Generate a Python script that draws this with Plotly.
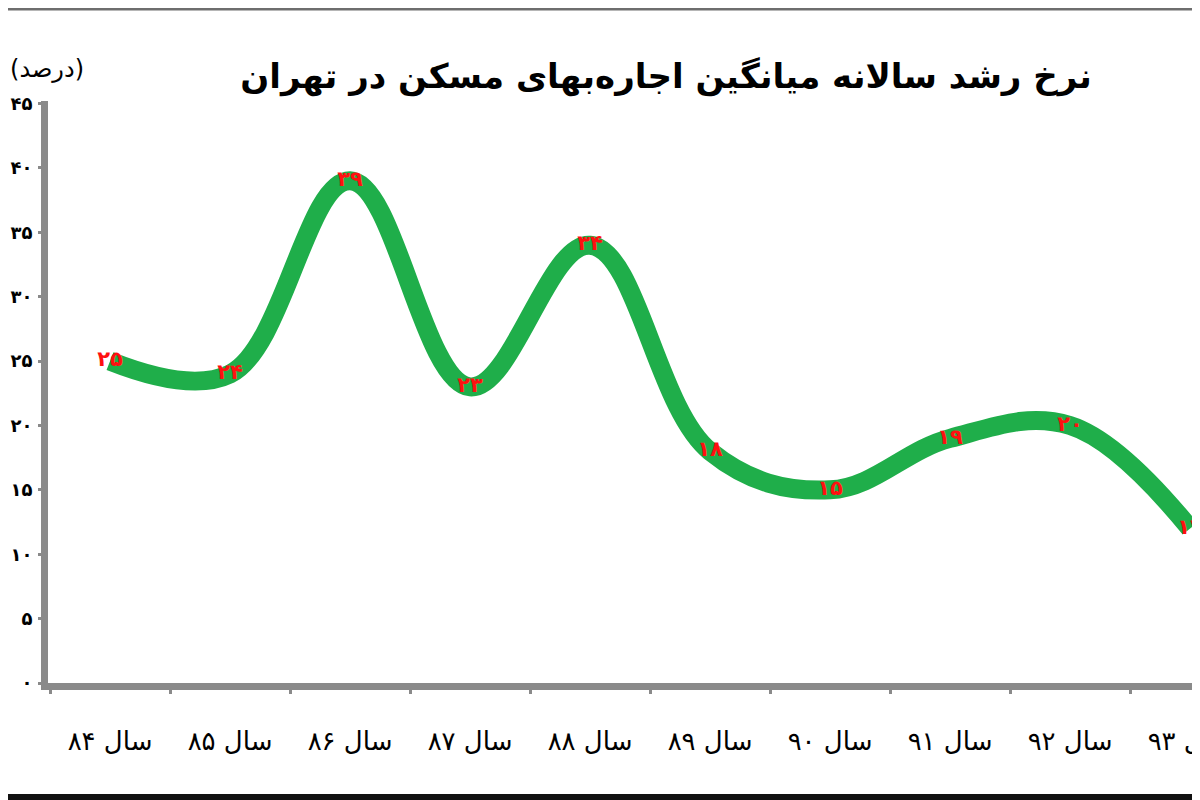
import plotly.graph_objects as go

# نرخ رشد سالانه میانگین اجاره‌بها (درصد)
years = [84, 85, 86, 87, 88, 89, 90, 91, 92, 93]
growth = [25, 24, 39, 23, 34, 18, 15, 19, 20, 12]
y_ticks = [0, 5, 10, 15, 20, 25, 30, 35, 40, 45]

TITLE = "نرخ رشد سالانه میانگین اجاره‌بهای مسکن در تهران"
UNIT = "(درصد)"

FA = str.maketrans("0123456789", "۰۱۲۳۴۵۶۷۸۹")


def fa(v):
    return str(v).translate(FA)


W, H = 1200, 800
# the page body adds an 8px offset, so layout is set 8px up/left
M = dict(l=40, r=8, t=93, b=125)
plot_h = H - M["t"] - M["b"]
plot_w = W - M["l"] - M["r"]


def py(pixel):
    # pixel (from top of figure) -> paper y
    return (H - M["b"] - pixel) / plot_h


def px(pixel):
    return (pixel - M["l"]) / plot_w


cats = ["سال " + fa(y) for y in years]

fig = go.Figure()
fig.add_trace(go.Scatter(
    x=cats, y=growth,
    mode="lines+text",
    line=dict(color="#1fae4a", width=19, shape="spline", smoothing=1.1),
    text=[fa(v) for v in growth],
    textposition="middle center",
    textfont=dict(family="DejaVu Sans", size=21, color="#ff1010", weight="bold"),
    hoverinfo="skip",
    cliponaxis=False,
))

axis_grey = "#8a8a8a"
fig.update_layout(
    width=W, height=H,
    margin=M,
    paper_bgcolor="white",
    plot_bgcolor="white",
    showlegend=False,
    title=dict(
        text=TITLE,
        x=658 / W, xanchor="center",
        y=1 - 68 / H, yanchor="middle",
        font=dict(family="DejaVu Sans", size=34, color="black", weight="bold"),
    ),
    xaxis=dict(
        type="category",
        range=[-0.517, 9.083],
        automargin=False,
        showgrid=False, zeroline=False,
        showline=True, linecolor=axis_grey, linewidth=7,
        ticks="outside", tickson="boundaries", ticklen=4, tickwidth=3,
        tickcolor=axis_grey,
        ticklabelstandoff=29,
        tickfont=dict(family="DejaVu Sans", size=26, color="black"),
    ),
    yaxis=dict(
        range=[0, 45.2],
        automargin=False,
        tickvals=y_ticks,
        ticktext=[fa(v) for v in y_ticks],
        showgrid=False, zeroline=False,
        showline=True, linecolor=axis_grey, linewidth=7,
        ticks="outside", ticklen=3, tickwidth=3, tickcolor=axis_grey,
        ticklabelstandoff=2,
        tickfont=dict(family="DejaVu Sans", size=18, color="black", weight="bold"),
    ),
    annotations=[dict(
        text=UNIT, xref="paper", yref="paper",
        x=px(0), y=py(61), xanchor="left", yanchor="middle",
        showarrow=False,
        font=dict(family="DejaVu Sans", size=24, color="black"),
    )],
    shapes=[
        dict(type="line", xref="paper", yref="paper",
             x0=px(0), x1=1, y0=py(1), y1=py(1),
             line=dict(color="#6e6e6e", width=3)),
        dict(type="line", xref="paper", yref="paper",
             x0=px(0), x1=1, y0=py(789), y1=py(789),
             line=dict(color="#111111", width=6)),
    ],
)

fig.write_html("out.html")
